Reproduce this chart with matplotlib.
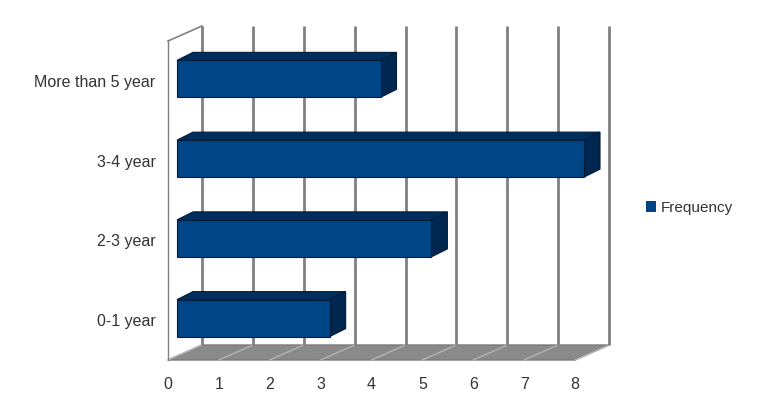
import matplotlib.pyplot as plt
from matplotlib.patches import Polygon, Patch

CATEGORIES = ["0-1 year", "2-3 year", "3-4 year", "More than 5 year"]
FREQUENCY = [3, 5, 8, 4]
X_TICKS = list(range(0, 9))
SERIES_NAME = "Frequency"

W, H, DPI = 767, 419, 100
FRONT = "#004586"
TOP = "#002f5e"
SIDE = "#002750"
EDGE = "#001c3a"
GRID = "#808080"
TEXT = "#333333"

plt.rcParams["font.family"] = ["Liberation Sans", "DejaVu Sans"]
plt.rcParams["font.size"] = 11.5

fig = plt.figure(figsize=(W / DPI, H / DPI), dpi=DPI)
# front plane of the 3d box: x 0..8 -> px 168..575, y band -> px 360..41
ax = fig.add_axes([168 / W, (H - 360) / H, (575 - 168) / W, (360 - 41) / H])
ax.set_xlim(0, 8)
ax.set_ylim(-0.5, 3.5)

px_x = 8 / (575 - 168)
px_y = 4 / (360 - 41)


def off(dx_px, dy_px):
    return dx_px * px_x, dy_px * px_y


wall_dx, wall_dy = off(34, 15)
bar_x0, bar_y0 = off(9, 2)
bar_dx, bar_dy = off(16, 8)
bar_h = 37 * px_y

lo, hi = -0.5, 3.5
xmax = X_TICKS[-1]

# floor
floor = Polygon([(0, lo), (xmax, lo), (xmax + wall_dx, lo + wall_dy), (wall_dx, lo + wall_dy)],
                closed=True, facecolor="#8a8a8a", edgecolor="#7a7a7a", lw=1, clip_on=False, zorder=1)
ax.add_patch(floor)
for v in X_TICKS:
    ax.plot([v, v + wall_dx], [lo, lo + wall_dy], color="#b4b4b4", lw=1, clip_on=False, zorder=2)
    # back wall gridlines
    ax.plot([v + wall_dx, v + wall_dx], [lo + wall_dy, hi + wall_dy], color=GRID, lw=2,
            clip_on=False, zorder=2, solid_capstyle="butt")

# left wall edges
ax.plot([0, 0], [lo, hi], color=GRID, lw=1, clip_on=False, zorder=2)
ax.plot([0, wall_dx], [hi, hi + wall_dy], color=GRID, lw=1.2, clip_on=False, zorder=2)

# bars
ys = [i + bar_y0 for i in range(len(CATEGORIES))]
bars = ax.barh(ys, FREQUENCY, height=bar_h, left=bar_x0, color=FRONT, edgecolor=EDGE, lw=0.8, zorder=4)
for b in bars:
    b.set_clip_on(False)
for y, v in zip(ys, FREQUENCY):
    x1 = bar_x0 + v
    top = y + bar_h / 2
    bot = y - bar_h / 2
    ax.add_patch(Polygon([(bar_x0, top), (x1, top), (x1 + bar_dx, top + bar_dy), (bar_x0 + bar_dx, top + bar_dy)],
                         closed=True, facecolor=TOP, edgecolor=EDGE, lw=0.8, clip_on=False, zorder=3))
    ax.add_patch(Polygon([(x1, bot), (x1, top), (x1 + bar_dx, top + bar_dy), (x1 + bar_dx, bot + bar_dy)],
                         closed=True, facecolor=SIDE, edgecolor=EDGE, lw=0.8, clip_on=False, zorder=3))

ax.set_yticks(range(len(CATEGORIES)), CATEGORIES)
ax.set_xticks(X_TICKS, [str(t) for t in X_TICKS])
ax.tick_params(axis="y", length=0, pad=9, colors=TEXT)
ax.tick_params(axis="x", length=0, pad=12.5, colors=TEXT)
for s in ax.spines.values():
    s.set_visible(False)
ax.patch.set_visible(False)

ax.legend(handles=[Patch(facecolor=FRONT, label=SERIES_NAME)], loc="center left",
          bbox_to_anchor=(632 / W, 1 - 208 / H), bbox_transform=fig.transFigure,
          frameon=False, handlelength=0.7, handleheight=0.7, handletextpad=0.25,
          labelcolor=TEXT, fontsize=11)

fig.savefig("out.png", dpi=DPI)
